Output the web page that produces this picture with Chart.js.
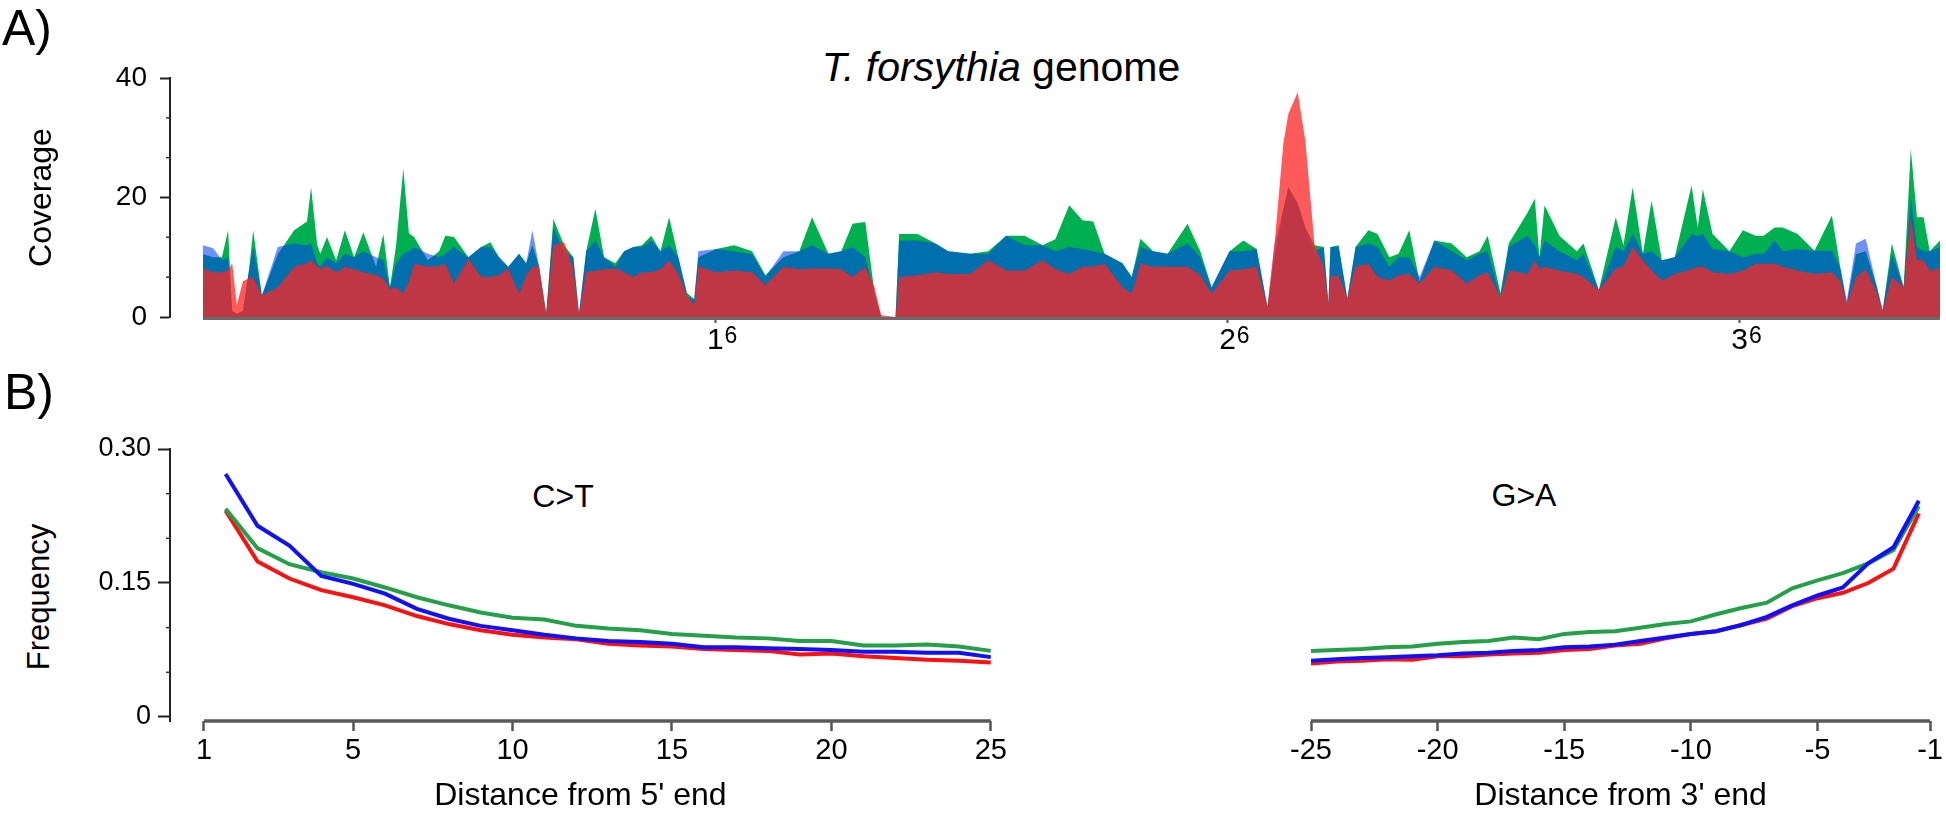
<!DOCTYPE html>
<html><head><meta charset="utf-8">
<script src="https://cdn.jsdelivr.net/npm/chart.js@4.4.1/dist/chart.umd.min.js"></script>
<style>
html,body{margin:0;padding:0;background:#fff;}
body{width:1946px;height:815px;overflow:hidden;position:relative;font-family:"Liberation Sans",Arial,sans-serif;}
canvas{position:absolute;}
.lbl{position:absolute;color:#000;white-space:nowrap;line-height:1;}
</style></head><body>
<div class="lbl" style="left:2px;top:3px;font-size:50px;">A)</div>
<div class="lbl" style="left:4px;top:367px;font-size:50px;">B)</div>
<div class="lbl" style="left:1001px;top:47px;font-size:41px;transform:translateX(-50%);"><i>T. forsythia</i> genome</div>
<div class="lbl" style="left:563px;top:480px;font-size:32px;transform:translateX(-50%);">C&gt;T</div>
<div class="lbl" style="left:1524px;top:479px;font-size:32px;transform:translateX(-50%);">G&gt;A</div>
<div class="lbl" style="left:38px;top:597px;font-size:31px;transform:translate(-50%,-50%) rotate(-90deg);">Frequency</div>
<canvas id="cA" width="1946" height="380" style="left:0;top:0;"></canvas>
<canvas id="cB1" width="1010" height="435" style="left:0;top:380px;"></canvas>
<canvas id="cB2" width="936" height="435" style="left:1010px;top:380px;"></canvas>
<script>
// ---------- Panel A: coverage along genome (position in Mb) ----------
const coveragePos = [0.000,0.020,0.037,0.049,0.057,0.066,0.078,0.090,0.098,0.115,0.146,0.178,0.203,0.211,0.223,0.229,0.242,0.260,0.277,0.295,0.313,0.338,0.352,0.365,0.377,0.391,0.402,0.412,0.439,0.461,0.473,0.490,0.518,0.543,0.561,0.578,0.596,0.617,0.631,0.643,0.656,0.670,0.684,0.705,0.723,0.734,0.748,0.766,0.783,0.805,0.822,0.840,0.857,0.875,0.893,0.910,0.928,0.945,0.959,0.967,1.002,1.037,1.072,1.098,1.133,1.164,1.189,1.221,1.246,1.268,1.293,1.311,1.324,1.352,1.359,1.395,1.430,1.455,1.498,1.533,1.568,1.604,1.639,1.664,1.691,1.717,1.738,1.760,1.795,1.813,1.830,1.855,1.883,1.922,1.947,1.969,2.004,2.031,2.057,2.078,2.092,2.109,2.119,2.137,2.152,2.170,2.188,2.197,2.201,2.217,2.234,2.250,2.275,2.293,2.316,2.334,2.355,2.375,2.404,2.438,2.467,2.492,2.508,2.533,2.549,2.586,2.600,2.609,2.619,2.648,2.682,2.695,2.725,2.758,2.773,2.791,2.811,2.828,2.848,2.873,2.906,2.918,2.928,2.947,2.980,3.006,3.031,3.047,3.068,3.084,3.113,3.146,3.180,3.197,3.209,3.227,3.246,3.268,3.279,3.297,3.320,3.334,3.346,3.359,3.371,3.391];
const greenCov = [10.5,10.0,10.0,14.5,1.0,0.5,1.0,8.0,14.5,3.6,10.5,14.5,16.0,21.7,12.0,10.6,13.4,9.5,14.5,10.0,14.2,8.4,13.9,5.0,12.0,24.8,14.0,13.4,9.5,11.0,13.6,13.4,10.0,11.7,12.5,10.0,8.4,10.6,9.0,12.0,8.5,0.5,16.4,12.0,10.0,0.5,11.0,18.1,10.0,9.0,11.0,11.7,12.0,13.6,11.0,16.7,10.0,4.0,3.0,10.0,11.4,12.0,11.0,7.0,10.0,11.0,16.7,10.6,11.0,15.6,15.9,4.0,0,0,13.9,13.9,12.3,11.0,10.6,11.0,13.6,13.6,12.0,13.0,18.7,16.2,16.0,10.6,9.0,6.7,13.1,11.0,10.6,15.6,11.0,5.0,11.0,12.8,11.4,1.7,10.0,18.0,21.7,19.0,15.0,12.0,11.7,2.2,11.7,12.0,3.1,11.7,14.5,13.9,10.0,10.6,14.5,6.0,12.8,12.3,10.0,11.0,13.6,4.0,12.3,17.5,19.8,10.0,18.7,13.6,11.0,12.3,4.5,16.7,12.0,21.7,10.6,19.5,9.5,10.0,22.0,15.0,21.4,13.9,11.0,14.5,13.6,13.6,15.0,15.0,13.9,11.1,17.0,8.0,2.2,10.5,11.0,5.0,1.1,12.3,5.0,28.1,16.7,16.7,11.0,12.8];
const blueCov = [12.0,11.5,9.5,10.0,1.0,0.5,1.0,8.0,11.7,3.6,11.7,12.3,12.0,12.3,9.0,8.4,10.0,9.0,10.6,10.0,11.0,10.0,9.5,5.0,9.0,10.6,11.0,11.7,10.6,10.0,10.6,11.7,10.0,11.7,11.7,10.0,8.4,10.6,9.0,14.5,8.5,0.5,15.0,11.0,10.0,0.5,11.0,12.8,10.0,8.4,11.0,11.7,11.7,12.8,11.0,12.0,10.0,3.5,2.8,11.0,11.4,11.0,10.5,6.7,11.0,11.0,12.0,10.6,11.0,11.7,10.0,4.0,0,0,12.8,12.8,12.3,11.0,10.6,10.6,13.6,12.0,12.0,11.0,11.7,11.4,11.0,10.6,9.0,6.7,11.7,11.0,10.6,12.3,10.0,5.0,11.0,11.0,11.4,1.7,12.3,18.0,21.7,19.0,15.0,11.0,11.7,2.2,11.7,11.7,3.1,11.7,12.3,11.7,8.4,10.0,10.0,6.7,12.8,11.0,9.5,10.6,11.0,3.3,11.7,13.6,12.0,10.0,12.8,11.0,9.5,10.6,4.5,11.7,11.0,13.9,10.6,11.0,9.5,10.0,13.9,13.5,13.9,11.4,11.0,10.0,10.6,10.6,12.8,11.0,11.4,11.1,11.1,8.0,2.7,12.3,13.1,5.0,1.1,10.6,5.0,20.0,11.7,11.0,11.0,11.7];
const redCov = [8.1,7.5,7.5,7.8,9.0,2.0,6.0,6.5,6.7,3.6,5.0,8.4,9.0,9.5,8.5,8.1,8.5,7.5,8.4,8.0,7.5,7.0,6.4,4.7,5.0,3.9,6.0,8.9,8.4,8.5,8.9,5.6,9.7,6.7,6.7,7.0,8.1,3.9,7.0,8.4,8.4,0.5,12.0,12.5,8.0,0.5,7.5,7.8,8.0,8.1,7.5,6.7,7.5,7.5,8.0,9.5,7.2,3.6,2.0,8.4,7.5,7.8,7.5,5.3,8.4,8.0,8.1,8.1,8.0,6.7,8.4,5.0,0.3,0,6.7,7.0,7.5,7.2,7.2,9.5,7.8,7.8,9.5,8.0,7.2,8.4,8.4,8.9,5.0,3.9,8.9,8.4,8.4,8.4,7.0,3.9,7.8,8.0,8.4,1.7,12.3,29.0,34.0,37.6,29.5,12.0,8.4,2.2,6.7,7.0,3.1,8.4,8.9,6.7,6.1,7.0,7.2,5.6,8.4,7.8,5.6,7.0,7.5,3.3,7.8,7.2,9.5,8.0,8.4,7.8,7.2,6.7,4.5,8.1,8.5,11.7,9.5,7.8,6.1,7.2,8.0,8.4,8.4,7.5,7.2,7.8,8.9,8.9,8.9,8.4,7.8,7.2,7.5,6.0,2.2,6.7,8.0,4.0,1.1,6.7,5.0,16.7,9.5,9.5,7.8,8.1];
const genomeTicks = [1, 2, 3];
const genomeTickLabels = ['1', '2', '3'];
const genomeTickExponent = '6';
const coverageTicks = [0, 20, 40];

// ---------- Panel B: misincorporation frequencies ----------
const ctPos = [1,2,3,4,5,6,7,8,9,10,11,12,13,14,15,16,17,18,19,20,21,22,23,24,25];
const ctBlue = [0.272,0.214,0.192,0.158,0.149,0.138,0.121,0.110,0.102,0.097,0.092,0.088,0.085,0.084,0.082,0.078,0.078,0.077,0.076,0.075,0.073,0.073,0.072,0.072,0.067];
const ctGreen = [0.233,0.189,0.171,0.162,0.155,0.145,0.134,0.125,0.117,0.111,0.109,0.102,0.099,0.097,0.093,0.091,0.089,0.088,0.085,0.085,0.080,0.080,0.081,0.079,0.074];
const ctRed = [0.231,0.174,0.155,0.142,0.134,0.125,0.113,0.104,0.097,0.092,0.089,0.087,0.082,0.080,0.079,0.076,0.075,0.074,0.070,0.071,0.068,0.066,0.064,0.063,0.061];
const gaPos = [-25,-24,-23,-22,-21,-20,-19,-18,-17,-16,-15,-14,-13,-12,-11,-10,-9,-8,-7,-6,-5,-4,-3,-2,-1];
const gaBlue = [0.063,0.0645,0.066,0.067,0.068,0.069,0.071,0.072,0.074,0.075,0.078,0.079,0.081,0.085,0.089,0.093,0.096,0.103,0.112,0.125,0.136,0.145,0.172,0.190,0.242];
const gaGreen = [0.074,0.075,0.076,0.078,0.079,0.082,0.084,0.085,0.089,0.087,0.093,0.095,0.096,0.100,0.104,0.107,0.115,0.122,0.128,0.144,0.153,0.161,0.172,0.187,0.236];
const gaRed = [0.060,0.062,0.063,0.0645,0.064,0.068,0.068,0.070,0.071,0.072,0.075,0.076,0.080,0.082,0.088,0.093,0.096,0.103,0.110,0.124,0.133,0.139,0.150,0.166,0.228];
const ctTicks = [0.323, 5, 10, 15, 20, 25];
const ctTickLabels = ['1','5','10','15','20','25'];
const gaTicks = [-25, -20, -15, -10, -5, -0.555];
const gaTickLabels = ['-25','-20','-15','-10','-5','-1'];
const freqTicks = [0, 0.15, 0.30];
const freqTickLabels = ['0','0.15','0.30'];

const FAMILY = '"Liberation Sans", Arial, sans-serif';
Chart.defaults.font.family = FAMILY;
Chart.defaults.color = '#000';

const axisDecor = {
  id: 'axisDecor',
  afterDatasetsDraw(chart, args, o) {
    const {ctx, chartArea, scales} = chart;
    ctx.save();
    if (o.line) {
      const x = scales.x;
      const yy = chartArea.bottom + o.line.offset;
      ctx.strokeStyle = o.line.color; ctx.lineWidth = o.line.width; ctx.lineCap = 'butt';
      ctx.beginPath();
      ctx.moveTo(x.getPixelForValue(o.line.from), yy);
      ctx.lineTo(x.getPixelForValue(o.line.to), yy);
      ctx.stroke();
    }
    if (o.minor && scales.y.options.display) {
      ctx.strokeStyle = o.minor.color; ctx.lineWidth = o.minor.width;
      o.minor.values.forEach(v => {
        const py = scales.y.getPixelForValue(v);
        ctx.beginPath(); ctx.moveTo(chartArea.left, py); ctx.lineTo(chartArea.left - o.minor.len, py); ctx.stroke();
      });
    }
    ctx.restore();
  }
};

// superscript exponent after each x tick label (panel A)
const supLabels = {
  id: 'supLabels',
  afterDraw(chart, args, o) {
    if (!o || !o.text) return;
    const x = chart.scales.x, ctx = chart.ctx;
    const size = x.options.ticks.font.size, tl = x.options.grid.tickLength, pad = x.options.ticks.padding;
    const yMid = x.top + tl + pad + size * 1.2 / 2;
    const capTop = yMid + 0.3465 * size - 0.716 * size;
    ctx.save();
    x.ticks.forEach(t => {
      const px = x.getPixelForValue(t.value);
      ctx.font = size + 'px ' + FAMILY;
      const w = ctx.measureText(t.label).width;
      ctx.font = o.size + 'px ' + FAMILY;
      ctx.textAlign = 'left'; ctx.textBaseline = 'alphabetic'; ctx.fillStyle = '#000';
      ctx.fillText(o.text, px + w / 2 + 1, capTop + 0.716 * o.size - o.raise);
    });
    ctx.restore();
  }
};

function pts(xs, ys){ return xs.map((x,i)=>({x:x, y:ys[i]})); }
function fixedTicks(vals){ return s => { s.ticks = vals.map(v => ({value:v})); }; }
function labelFor(vals, labels){ return v => { const i = vals.findIndex(t => Math.abs(t - v) < 1e-6); return i >= 0 ? labels[i] : ''; }; }

// Panel A
new Chart(document.getElementById('cA'), {
  type: 'line',
  data: { datasets: [
    {label:'red', data: pts(coveragePos, redCov), backgroundColor:'rgba(255,35,35,0.75)', fill:'origin', borderWidth:0, pointRadius:0, tension:0},
    {label:'blue', data: pts(coveragePos, blueCov), backgroundColor:'rgba(0,61,245,0.57)', fill:'origin', borderWidth:0, pointRadius:0, tension:0},
    {label:'green', data: pts(coveragePos, greenCov), backgroundColor:'rgb(0,176,80)', fill:'origin', borderWidth:0, pointRadius:0, tension:0}
  ]},
  options: {
    responsive:false, animation:false, events:[],
    layout:{padding:{top:78, right:6, left:0, bottom:0}},
    plugins:{legend:{display:false}, tooltip:{enabled:false},
      supLabels:{text:genomeTickExponent, size:23, raise:3},
      axisDecor:{line:{from:0, to:3.391, offset:1.5, color:'#6a6a6a', width:3},
                 minor:{values:[6.667,13.333,26.667,33.333], len:4, color:'#333', width:1.5}}},
    scales:{
      x:{type:'linear', min:-0.0644, max:3.391,
         afterFit(s){ s.height = 63; }, afterBuildTicks: fixedTicks(genomeTicks),
         ticks:{callback: labelFor(genomeTicks, genomeTickLabels), font:{size:30}, padding:0, maxRotation:0, autoSkip:false, color:'#000'},
         grid:{drawOnChartArea:false, drawTicks:true, tickLength:6, tickColor:'#555', tickWidth:2},
         border:{display:false}},
      y:{min:0, max:40,
         afterFit(s){ s.width = 170; }, afterBuildTicks: fixedTicks(coverageTicks),
         ticks:{font:{size:28}, padding:13, color:'#000'},
         grid:{drawOnChartArea:false, tickLength:10, tickColor:'#222', tickWidth:2},
         border:{display:true, color:'#222', width:2},
         title:{display:true, text:'Coverage', font:{size:32}, padding:{top:23, bottom:0}, color:'#000'}}
    }
  },
  plugins:[axisDecor, supLabels]
});

function freqChart(id, pos, blue, green, red, xmin, xmax, ticks, labels, showY, xTitle, pad) {
  return new Chart(document.getElementById(id), {
    type:'line',
    data:{ datasets:[
      {label:'blue', data:pts(pos, blue), borderColor:'#1010ff', borderWidth:4, pointRadius:0, tension:0, fill:false},
      {label:'green', data:pts(pos, green), borderColor:'#23a048', borderWidth:4, pointRadius:0, tension:0, fill:false},
      {label:'red', data:pts(pos, red), borderColor:'#ff1010', borderWidth:4, pointRadius:0, tension:0, fill:false}
    ]},
    options:{
      responsive:false, animation:false, events:[],
      layout:{padding:pad},
      plugins:{legend:{display:false}, tooltip:{enabled:false},
        axisDecor:{line:{from:ticks[0], to:ticks[ticks.length-1], offset:0, color:'#5a5a5a', width:3.5},
                   minor:{values:[0.05,0.10,0.20,0.25], len:4, color:'#333', width:1.5}}},
      scales:{
        x:{type:'linear', min:xmin, max:xmax,
           afterFit(s){ s.height = 94; }, afterBuildTicks: fixedTicks(ticks),
           ticks:{callback: labelFor(ticks, labels), font:{size:29}, padding:3, maxRotation:0, autoSkip:false, color:'#000'},
           grid:{drawOnChartArea:false, drawTicks:true, tickLength:10, tickColor:'#555', tickWidth:2.5},
           border:{display:false},
           title:{display:true, text:xTitle, font:{size:32}, padding:{top:0, bottom:0}, color:'#000'}},
        y:{display:showY, min:-0.0045, max:0.30,
           afterFit(s){ s.width = 170; }, afterBuildTicks: fixedTicks(freqTicks),
           ticks:{callback: labelFor(freqTicks, freqTickLabels), font:{size:27}, padding:7, color:'#000'},
           grid:{drawOnChartArea:false, tickLength:12, tickColor:'#222', tickWidth:2},
           border:{display:true, color:'#222', width:2},
           title:{display:false}}
      }
    },
    plugins:[axisDecor]
  });
}

freqChart('cB1', ctPos, ctBlue, ctGreen, ctRed, -0.743, 25, ctTicks, ctTickLabels, true, "Distance from 5' end", {top:69, right:7, left:0, bottom:0});
freqChart('cB2', gaPos, gaBlue, gaGreen, gaRed, -25, -0.555, gaTicks, gaTickLabels, false, "Distance from 3' end", {top:69, right:13, left:131, bottom:0});
</script>
</body></html>
